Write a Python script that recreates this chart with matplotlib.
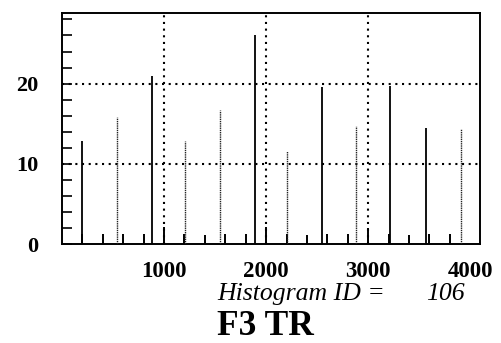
import matplotlib
matplotlib.use("Agg")
import matplotlib.pyplot as plt

# Data
peak_x = [200, 541, 883, 1205, 1546, 1888, 2200, 2551, 2883, 3215, 3566, 3907]
peak_h = [12.9, 15.8, 21.0, 12.8, 16.7, 26.0, 11.6, 19.6, 14.7, 19.7, 14.5, 14.4]
peak_thin = [False, True, False, True, True, False, True, False, True, False, False, True]
small_x = [200, 400, 600, 800, 1000, 1200, 1400, 1600, 1800, 2000,
           2200, 2400, 2600, 2800, 3000, 3200, 3400, 3600, 3800]
small_h = [1.2, 1.2, 1.2, 1.2, 2.1, 1.3, 1.1, 1.2, 1.2, 2.1,
           1.3, 1.1, 1.2, 1.2, 2.0, 1.2, 1.1, 1.2, 1.2]
x_ticks = [1000, 2000, 3000, 4000]
y_ticks = [0, 10, 20]
title_id = "Histogram ID ="
hist_id = "106"
title = "F3 TR"

plt.rcParams['font.family'] = ['Liberation Serif', 'DejaVu Serif']

fig = plt.figure(figsize=(5.01, 3.43), dpi=100)
ax = fig.add_axes([62/501, 1-244/343, (480-62)/501, (244-13)/343])
ax.set_xlim(0, 4096)
ax.set_ylim(0, 28.8)

# grid
for gx in [1000, 2000, 3000]:
    ax.axvline(gx, color='black', lw=1.5, linestyle=(0, (1, 2.2)), zorder=1)
for gy in [10, 20]:
    ax.axhline(gy, color='black', lw=1.5, linestyle=(0, (1, 2.2)), zorder=1)

ax.vlines(small_x, 0, small_h, color='black', lw=1.4, zorder=2)
for x, h, thin in zip(peak_x, peak_h, peak_thin):
    if thin:
        ax.vlines(x, 0, h, color='#222222', lw=1.0, linestyle=(0, (1, 0.6)), zorder=3)
    else:
        ax.vlines(x, 0, h, color='black', lw=1.3, zorder=3)

for s in ax.spines.values():
    s.set_linewidth(1.4)

ax.set_yticks(y_ticks)
ax.set_yticks(list(range(0, 29, 2)), minor=True)
ax.tick_params(axis='y', which='both', direction='in', length=7, width=1.2,
               left=True, right=False, pad=17)
ax.tick_params(axis='y', which='major', labelsize=16)
for lab in ax.get_yticklabels():
    lab.set_fontweight('bold')
ax.set_xticks(x_ticks)
ax.set_xticklabels([str(v) for v in x_ticks], fontsize=16.5, fontweight='bold')
ax.tick_params(axis='x', length=0, pad=12.5)

fig.text(217/501, 1-300/343, title_id, fontsize=18.5, fontstyle='italic',
         ha='left', va='baseline')
fig.text(426/501, 1-300/343, hist_id, fontsize=18.5, fontstyle='italic',
         ha='left', va='baseline')
fig.text(217/501, 1-335/343, title, fontsize=25.5, fontweight='bold',
         ha='left', va='baseline')

fig.savefig("out.png", dpi=100)
